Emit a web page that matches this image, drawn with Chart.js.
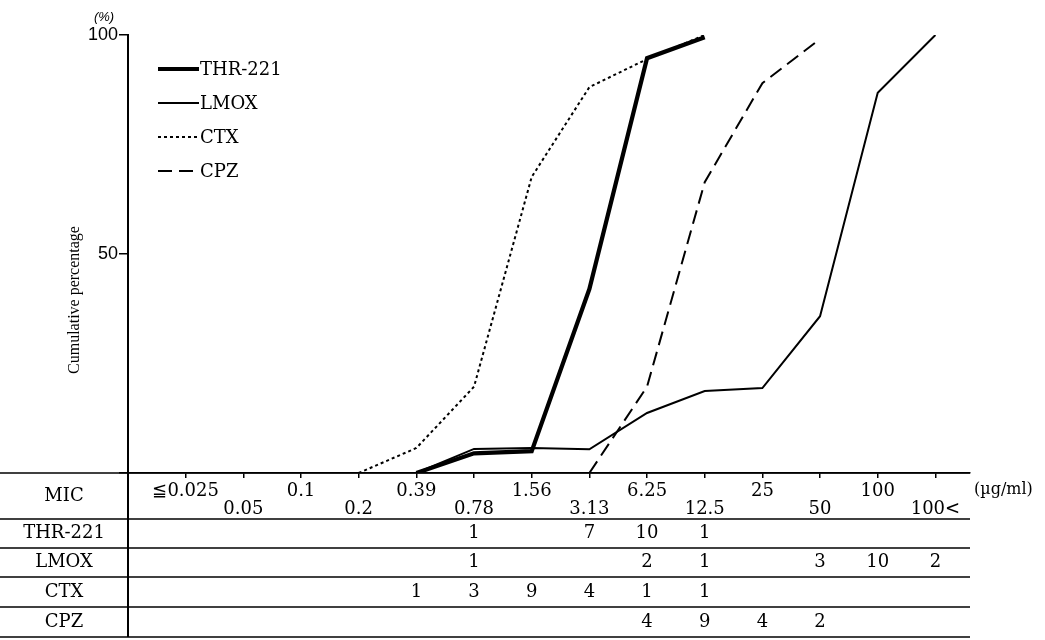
<!DOCTYPE html>
<html>
<head>
<meta charset="utf-8">
<script src="https://cdn.jsdelivr.net/npm/chart.js@4.4.0/dist/chart.umd.min.js"></script>
<style>
  html, body { margin: 0; padding: 0; background: #fff; }
  #wrap { width: 1045px; height: 640px; }
</style>
</head>
<body>
<div id="wrap"><canvas id="chart" width="1045" height="640"></canvas></div>
<script>
// MIC steps (µg/ml), one per column of the table
const micLabels = ['≦0.025', '0.05', '0.1', '0.2', '0.39', '0.78', '1.56', '3.13', '6.25', '12.5', '25', '50', '100', '100<'];
const drugs = ['THR-221', 'LMOX', 'CTX', 'CPZ'];

// cumulative percentage (null = not plotted)
const thrPct  = [null, null, null, null, 0, 4.5, 5, 42, 94.7, 99.5, null, null, null, null];
const lmoxPct = [null, null, null, null, 0, 5.5, 5.7, 5.4, 13.7, 18.7, 19.4, 35.8, 86.8, 100];
const ctxPct  = [null, null, null, 0, 5.7, 19.7, 67.6, 88.1, 94.5, 100, null, null, null, null];
const cpzPct  = [null, null, null, null, null, null, null, 0, 19.7, 66.4, 89, 99.1, null, null];

// number of strains at each MIC (rows of the table)
const thrCount  = [null, null, null, null, null, 1, null, 7, 10, 1, null, null, null, null];
const lmoxCount = [null, null, null, null, null, 1, null, null, 2, 1, null, 3, 10, 2];
const ctxCount  = [null, null, null, null, 1, 3, 9, 4, 1, 1, null, null, null, null];
const cpzCount  = [null, null, null, null, null, null, null, null, 4, 9, 4, 2, null, null];

const yTicks = [0, 50, 100];

const SERIF = '"DejaVu Serif", "Liberation Serif", serif';
const SANS = '"Liberation Sans", "DejaVu Sans", sans-serif';

function toPoints(arr) {
    return arr.map((v, i) => ({ x: i, y: v })).filter(p => p.y !== null);
}

const tableRows = [
    { label: 'THR-221', counts: thrCount },
    { label: 'LMOX', counts: lmoxCount },
    { label: 'CTX', counts: ctxCount },
    { label: 'CPZ', counts: cpzCount }
];

// table + legend + extra labels, drawn after the chart
const tablePlugin = {
    id: 'micTable',
    afterDraw(chart) {
        const ctx = chart.ctx;
        const xs = chart.scales.x;
        const area = chart.chartArea;
        const right = area.right;
        const axisX = area.left;

        const lines = [area.bottom, 519, 548, 577, 607, 637];
        const centers = [533.5, 562.5, 592, 622];

        ctx.save();
        ctx.strokeStyle = '#000';
        ctx.lineWidth = 1.5;
        lines.forEach(y => {
            ctx.beginPath();
            ctx.moveTo(0, y);
            ctx.lineTo(right, y);
            ctx.stroke();
        });
        ctx.lineWidth = 2;
        ctx.beginPath();
        ctx.moveTo(axisX, area.bottom);
        ctx.lineTo(axisX, 637);
        ctx.stroke();

        ctx.fillStyle = '#000';
        ctx.font = '18px ' + SERIF;
        ctx.textAlign = 'center';
        ctx.textBaseline = 'middle';
        ctx.fillText('MIC', 64, 496);
        tableRows.forEach((row, r) => {
            ctx.fillText(row.label, 64, centers[r]);
            row.counts.forEach((c, i) => {
                if (c === null) return;
                ctx.fillText(String(c), xs.getPixelForValue(i), centers[r]);
            });
        });

        ctx.font = '16px ' + SERIF;
        ctx.textAlign = 'left';
        ctx.fillText('(µg/ml)', 974, 490);

        ctx.font = 'italic 13px ' + SANS;
        ctx.textAlign = 'center';
        ctx.fillText('(%)', 104, 17);

        // y axis title
        ctx.save();
        ctx.translate(75, 300);
        ctx.rotate(-Math.PI / 2);
        ctx.font = '16px "Liberation Serif", serif';
        ctx.fillText('Cumulative percentage', 0, 0);
        ctx.restore();

        // legend
        const legendY = [69, 103, 137, 171];
        chart.data.datasets.forEach((ds, i) => {
            ctx.save();
            ctx.lineWidth = ds.borderWidth;
            ctx.setLineDash(ds.borderDash || []);
            ctx.beginPath();
            ctx.moveTo(158, legendY[i]);
            ctx.lineTo(199, legendY[i]);
            ctx.stroke();
            ctx.restore();
            ctx.font = '18px ' + SERIF;
            ctx.textAlign = 'left';
            ctx.fillText(ds.label, 200, legendY[i] + 1);
        });
        ctx.restore();
    }
};

const datasets = [
    { label: drugs[0], data: toPoints(thrPct), borderWidth: 4.2, borderDash: [] },
    { label: drugs[1], data: toPoints(lmoxPct), borderWidth: 2, borderDash: [] },
    { label: drugs[2], data: toPoints(ctxPct), borderWidth: 2, borderDash: [3, 3] },
    { label: drugs[3], data: toPoints(cpzPct), borderWidth: 2, borderDash: [14, 7] }
].map(ds => Object.assign(ds, {
    borderColor: '#000',
    backgroundColor: '#000',
    pointRadius: 0,
    tension: 0,
    fill: false
}));

new Chart(document.getElementById('chart'), {
    type: 'line',
    data: { datasets: datasets },
    options: {
        responsive: false,
        animation: false,
        layout: { padding: { top: 35, right: 75, bottom: 0, left: 0 } },
        plugins: {
            legend: { display: false },
            tooltip: { enabled: false }
        },
        scales: {
            x: {
                type: 'linear',
                min: -1.0,
                max: 13.6,
                afterBuildTicks: s => { s.ticks = micLabels.map((_, i) => ({ value: i })); },
                afterFit: s => { s.height = 167; },
                ticks: {
                    autoSkip: false,
                    maxRotation: 0,
                    padding: 4,
                    color: '#000',
                    font: { family: SERIF, size: 18, lineHeight: 1.0 },
                    callback: (v) => (v % 2 === 0 ? [micLabels[v], ''] : ['', micLabels[v]])
                },
                grid: { drawOnChartArea: false, tickLength: 5, color: '#000', lineWidth: 1.5 },
                border: { color: '#000', width: 1.5 }
            },
            y: {
                min: 0,
                max: 100,
                afterBuildTicks: s => { s.ticks = yTicks.map(v => ({ value: v })); },
                afterFit: s => { s.width = 128; },
                ticks: {
                    padding: 1,
                    color: '#000',
                    font: { family: SANS, size: 18 },
                    callback: v => (v === 0 ? '' : v)
                },
                grid: { drawOnChartArea: false, tickLength: 9, color: '#000', lineWidth: 1.5 },
                border: { color: '#000', width: 2 }
            }
        }
    },
    plugins: [tablePlugin]
});
</script>
</body>
</html>
